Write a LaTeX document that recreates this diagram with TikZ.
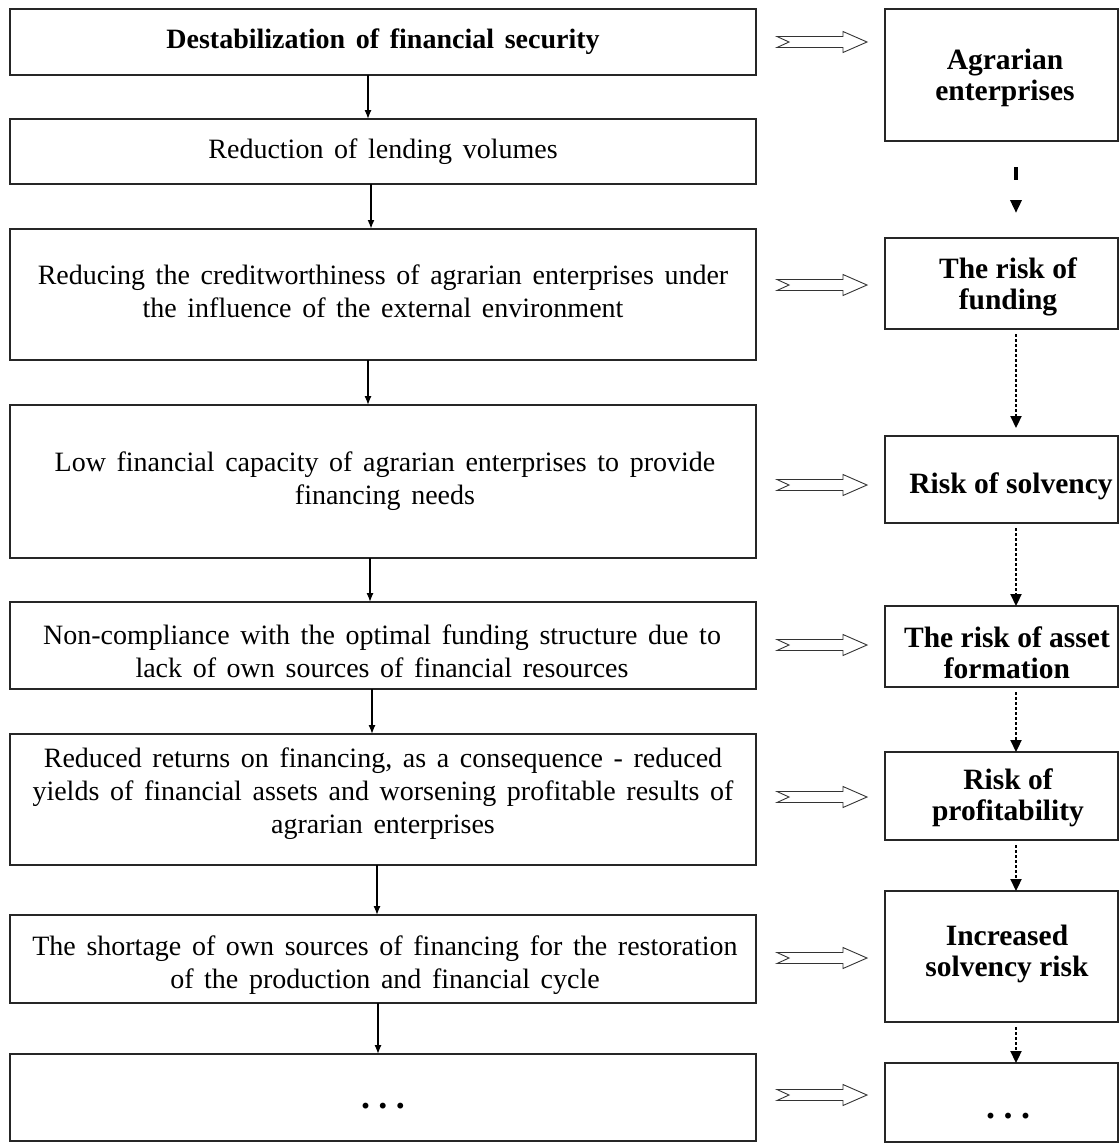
\documentclass[tikz,border=0pt]{standalone}
\usepackage{fontspec}
\setmainfont{Liberation Serif}
\usetikzlibrary{arrows.meta}
\newcommand\mytxtfont{\fontsize{28}{33}\selectfont\spaceskip=0.38em\relax}
\newcommand\mybtxtfont{\fontsize{29.5}{31}\selectfont\bfseries}
\newcommand\mydotfont{\fontsize{36}{36}\selectfont\bfseries}
\begin{document}
\begin{tikzpicture}[x=1pt,y=-1pt,
  box/.style={draw=black!85, line width=1.6pt, inner sep=0pt, outer sep=0pt, rectangle, anchor=north west},
  txt/.style={align=center, inner sep=0pt, font=\mytxtfont},
  btxt/.style={align=center, inner sep=0pt, font=\mybtxtfont},
  dots/.style={inner sep=0pt, anchor=base, font=\mydotfont},
  flow/.style={line width=1.3pt, -{Latex[length=9pt,width=7pt]}},
  riskarrow/.style={line width=2.2pt, dash pattern=on 2.5pt off 2.5pt, -{Triangle[length=12pt,width=11pt]}},
  notched/.pic={\draw[line width=0.9pt, black!80] (-45,-5.5) -- (21,-5.5) -- (21,-10.5) -- (45,0) -- (21,10.5) -- (21,5.5) -- (-45,5.5) -- (-33,0) -- cycle;}
]
\useasboundingbox (0,0) rectangle (1119,1144);
% left column boxes
\node[box, minimum width=746pt, minimum height=66pt]  (b1) at (10,9) {};
\node[box, minimum width=746pt, minimum height=65pt]  (b2) at (10,119) {};
\node[box, minimum width=746pt, minimum height=131pt] (b3) at (10,229) {};
\node[box, minimum width=746pt, minimum height=153pt] (b4) at (10,405) {};
\node[box, minimum width=746pt, minimum height=87pt]  (b5) at (10,602) {};
\node[box, minimum width=746pt, minimum height=131pt] (b6) at (10,734) {};
\node[box, minimum width=746pt, minimum height=88pt]  (b7) at (10,915) {};
\node[box, minimum width=746pt, minimum height=87pt]  (b8) at (10,1054) {};
% left texts
\node[txt] (t1) at (383,42) {\textbf{Destabilization of financial security}};
\node[txt] (t2) at (383,152) {Reduction of lending volumes};
\node[txt] (t3) at (383,291) {Reducing the creditworthiness of agrarian enterprises under\\the influence of the external environment};
\node[txt] (t4) at (385,481) {Low financial capacity of agrarian enterprises to provide\\financing needs};
\node[txt] (t5) at (382,651) {Non-compliance with the optimal funding structure due to\\lack of own sources of financial resources};
\node[txt] (t6) at (383,794) {Reduced returns on financing, as a consequence - reduced\\yields of financial assets and worsening profitable results of\\agrarian enterprises};
\node[txt] (t7) at (385,965) {The shortage of own sources of financing for the restoration\\of the production and financial cycle};
\node[dots] (t8) at (383,1108) {.\hspace{8.5pt}.\hspace{8.5pt}.};
% right column boxes
\node[box, minimum width=233pt, minimum height=132pt] (r1) at (885,9) {};
\node[box, minimum width=233pt, minimum height=91pt]  (r2) at (885,238) {};
\node[box, minimum width=233pt, minimum height=87pt]  (r3) at (885,436) {};
\node[box, minimum width=233pt, minimum height=81pt]  (r4) at (885,606) {};
\node[box, minimum width=233pt, minimum height=88pt]  (r5) at (885,752) {};
\node[box, minimum width=233pt, minimum height=131pt] (r6) at (885,891) {};
\node[box, minimum width=233pt, minimum height=79pt]  (r7) at (885,1063) {};
% right texts
\node[btxt] (s1) at (1005,78) {Agrarian\\enterprises};
\node[btxt] (s2) at (1008,287) {The risk of\\funding};
\node[btxt] (s3) at (1011,486) {Risk of solvency};
\node[btxt] (s4) at (1007,653) {The risk of asset\\formation};
\node[btxt] (s5) at (1008,798) {Risk of\\profitability};
\node[btxt] (s6) at (1007,954) {Increased\\solvency risk};
\node[dots] (s7) at (1008,1118) {.\hspace{8.5pt}.\hspace{8.5pt}.};
% left flow arrows
\draw[flow] ([xshift=-15pt]b1.south) -- ([xshift=-15pt]b2.north);
\draw[flow, line width=2.5pt] ([xshift=-12pt]b2.south) -- ([xshift=-12pt]b3.north);
\draw[flow] ([xshift=-15pt]b3.south) -- ([xshift=-15pt]b4.north);
\draw[flow] ([xshift=-13pt]b4.south) -- ([xshift=-13pt]b5.north);
\draw[flow] ([xshift=-11pt]b5.south) -- ([xshift=-11pt]b6.north);
\draw[flow] ([xshift=-6pt]b6.south) -- ([xshift=-6pt]b7.north);
\draw[flow] ([xshift=-5pt]b7.south) -- ([xshift=-5pt]b8.north);
% right risk arrows
\draw[line width=4pt, dash pattern=on 13pt off 60pt, -{Triangle[length=13pt,width=11pt]}, shorten <=26pt, shorten >=25pt] ([xshift=14.5pt]r1.south) -- ([xshift=14.5pt]r2.north);
\draw[riskarrow, shorten <=5pt, shorten >=8pt] ([xshift=14.5pt]r2.south) -- ([xshift=14.5pt]r3.north);
\draw[riskarrow, shorten <=5pt] ([xshift=14.5pt]r3.south) -- ([xshift=14.5pt]r4.north);
\draw[riskarrow, shorten <=5pt] ([xshift=14.5pt]r4.south) -- ([xshift=14.5pt]r5.north);
\draw[riskarrow, shorten <=5pt] ([xshift=14.5pt]r5.south) -- ([xshift=14.5pt]r6.north);
\draw[riskarrow, shorten <=5pt] ([xshift=14.5pt]r6.south) -- ([xshift=14.5pt]r7.north);
% notched block arrows between columns
\pic at (822,42) {notched};
\pic at (822,285) {notched};
\pic at (822,485) {notched};
\pic at (822,645) {notched};
\pic at (822,797) {notched};
\pic at (822,958) {notched};
\pic at (822,1095) {notched};
\end{tikzpicture}
\end{document}
